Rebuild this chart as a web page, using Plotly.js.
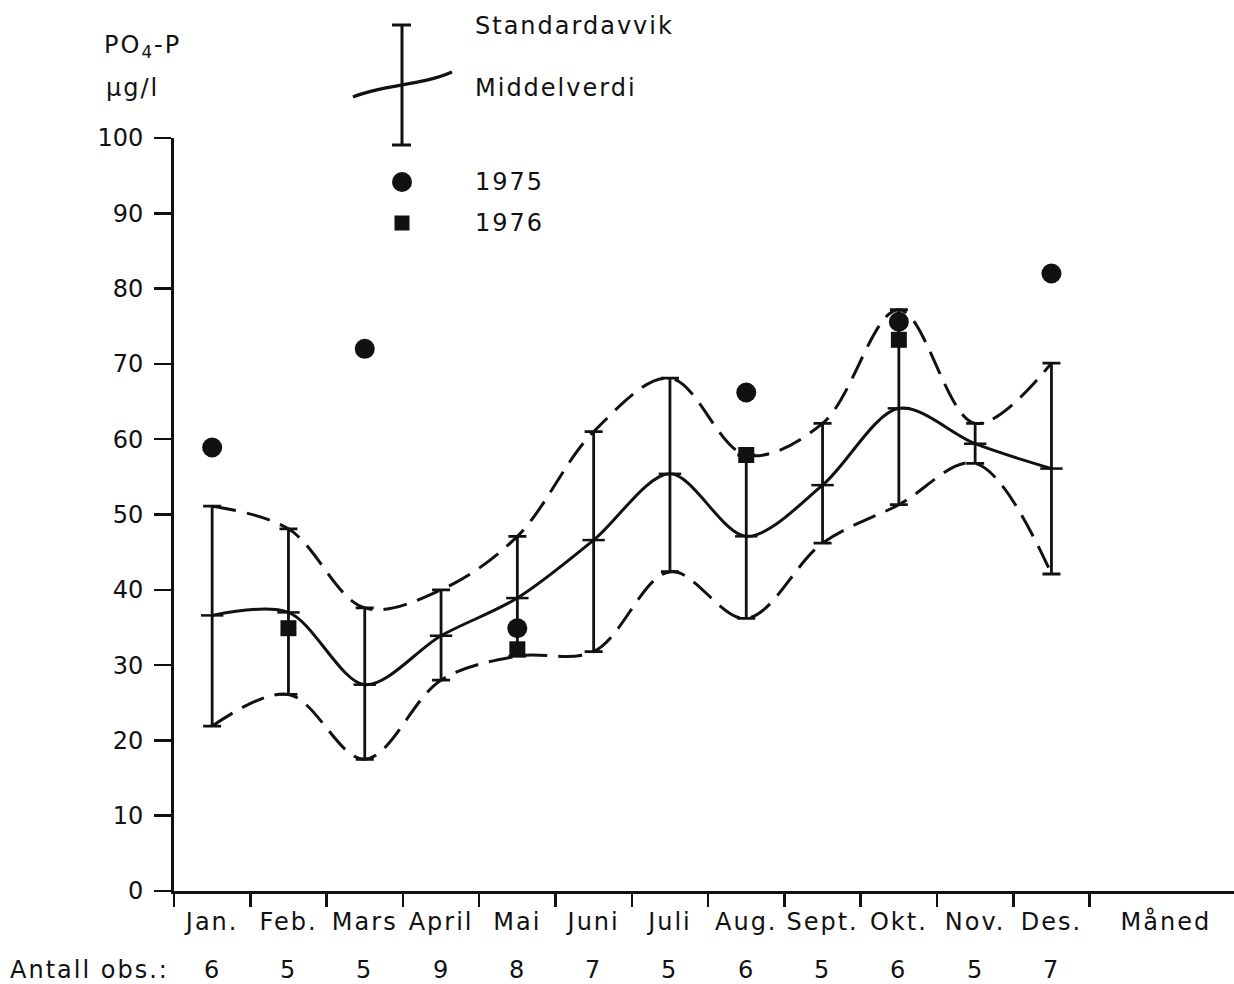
<!DOCTYPE html>
<html>
<head>
<meta charset="utf-8">
<script src="https://cdn.plot.ly/plotly-3.0.1.min.js"></script>
<style>
html,body{margin:0;padding:0;background:#fff;}
text{letter-spacing:2px;}
.ytick text{letter-spacing:0;}
</style>
</head>
<body>
<div id="chart" style="width:1234px;height:984px;"></div>
<script>
// ---- data ----
const months = ['Jan.', 'Feb.', 'Mars', 'April', 'Mai', 'Juni', 'Juli', 'Aug.', 'Sept.', 'Okt.', 'Nov.', 'Des.'];
const monthPos = [1, 2, 3, 4, 5, 6, 7, 8, 9, 10, 11, 12];
const monthBounds = [0.5, 1.5, 2.5, 3.5, 4.5, 5.5, 6.5, 7.5, 8.5, 9.5, 10.5, 11.5, 12.5];
const axisTitleX = 'Måned';
const axisTitlePos = 13.5;
const meanValues = [36.6, 37.0, 27.4, 33.9, 38.9, 46.6, 55.4, 47.1, 53.9, 64.1, 59.4, 56.1];
const sdUpper = [51.1, 48.1, 37.6, 40.0, 47.1, 61.0, 68.1, 57.9, 62.1, 77.2, 62.1, 70.1];
const sdLower = [21.9, 26.1, 17.5, 28.0, 31.2, 31.8, 42.4, 36.2, 46.2, 51.3, 56.8, 42.1];
const months1975 = [1, 3, 5, 8, 10, 12];
const values1975 = [58.9, 72.0, 34.9, 66.2, 75.6, 82.0];
const months1976 = [2, 5, 8, 10];
const values1976 = [34.9, 32.1, 57.9, 73.2];
const antallObs = [6, 5, 5, 9, 8, 7, 5, 6, 5, 6, 5, 7];
const yTicks = [0, 10, 20, 30, 40, 50, 60, 70, 80, 90, 100];

// ---- styling ----
const INK = '#111111';
const FONT = 'DejaVu Sans, Verdana, sans-serif';
const FS = 24;
const DASH = '24px,11px';

const errPlus = sdUpper.map((u, i) => u - meanValues[i]);
const errMinus = sdLower.map((l, i) => meanValues[i] - l);

const traces = [
  { x: monthPos, y: sdUpper, type: 'scatter', mode: 'lines',
    line: { color: INK, width: 3, dash: DASH, shape: 'spline', smoothing: 1 }, hoverinfo: 'skip' },
  { x: monthPos, y: sdLower, type: 'scatter', mode: 'lines',
    line: { color: INK, width: 3, dash: DASH, shape: 'spline', smoothing: 1 }, hoverinfo: 'skip' },
  { x: monthPos, y: meanValues, type: 'scatter', mode: 'lines+markers',
    line: { color: INK, width: 3, shape: 'spline', smoothing: 0.9 },
    marker: { symbol: 'line-ew', size: 16, color: INK, line: { color: INK, width: 2.5 } },
    error_y: { type: 'data', symmetric: false, array: errPlus, arrayminus: errMinus,
               color: INK, thickness: 2.8, width: 9 } },
  { x: months1975, y: values1975, type: 'scatter', mode: 'markers',
    marker: { symbol: 'circle', size: 20, color: INK }, cliponaxis: false },
  { x: months1976, y: values1976, type: 'scatter', mode: 'markers',
    marker: { symbol: 'square', size: 16, color: INK }, cliponaxis: false }
];

// helpers for paper coordinates from the plot-area geometry
const L = 174, T = 138, W = 1060, H = 753;
const px = v => (v - L) / W;
const py = v => (T + H - v) / H;

const annotations = [
  { text: 'PO<sub>4</sub>-P', xref: 'paper', yref: 'paper', x: px(102), y: py(46), xanchor: 'left', yanchor: 'middle', showarrow: false },
  { text: 'µg/l', xref: 'paper', yref: 'paper', x: px(104), y: py(88), xanchor: 'left', yanchor: 'middle', showarrow: false },
  { text: 'Standardavvik', xref: 'paper', yref: 'paper', x: px(473), y: py(26), xanchor: 'left', yanchor: 'middle', showarrow: false },
  { text: 'Middelverdi', xref: 'paper', yref: 'paper', x: px(473), y: py(88), xanchor: 'left', yanchor: 'middle', showarrow: false },
  { text: '1975', xref: 'paper', yref: 'paper', x: px(473), y: py(182), xanchor: 'left', yanchor: 'middle', showarrow: false },
  { text: '1976', xref: 'paper', yref: 'paper', x: px(473), y: py(223), xanchor: 'left', yanchor: 'middle', showarrow: false },
  { text: 'Antall obs.:', xref: 'paper', yref: 'paper', x: px(8), y: py(970), xanchor: 'left', yanchor: 'middle', showarrow: false }
];
antallObs.forEach((n, i) => annotations.push({
  text: String(n), xref: 'x', yref: 'paper', x: monthPos[i], y: py(970),
  xanchor: 'center', yanchor: 'middle', showarrow: false
}));

const lx = px(402);
const shapes = [
  { type: 'line', xref: 'paper', yref: 'paper', x0: lx, x1: lx, y0: py(25), y1: py(145), line: { color: INK, width: 3 } },
  { type: 'line', xref: 'paper', yref: 'paper', x0: px(392), x1: px(411), y0: py(25), y1: py(25), line: { color: INK, width: 3 } },
  { type: 'line', xref: 'paper', yref: 'paper', x0: px(392), x1: px(411), y0: py(145), y1: py(145), line: { color: INK, width: 3 } },
  { type: 'path', xref: 'paper', yref: 'paper',
    path: 'M ' + px(353) + ',' + py(97) + ' C ' + px(385) + ',' + py(84) + ' ' + px(420) + ',' + py(86) + ' ' + px(452) + ',' + py(72),
    line: { color: INK, width: 3.2 } },
  { type: 'circle', xref: 'paper', yref: 'paper', xsizemode: 'pixel', ysizemode: 'pixel',
    xanchor: lx, yanchor: py(182), x0: -10, x1: 10, y0: -10, y1: 10, fillcolor: INK, line: { width: 0 } },
  { type: 'rect', xref: 'paper', yref: 'paper', xsizemode: 'pixel', ysizemode: 'pixel',
    xanchor: lx, yanchor: py(223), x0: -7.5, x1: 7.5, y0: -7.5, y1: 7.5, fillcolor: INK, line: { width: 0 } }
];

const xRange = [0.5, 0.5 + W / 76.3];

const layout = {
  width: 1234, height: 984,
  margin: { l: L, r: 0, t: T, b: 984 - T - H, pad: 0 },
  paper_bgcolor: '#fff', plot_bgcolor: '#fff',
  showlegend: false,
  font: { family: FONT, size: FS, color: INK },
  xaxis: {
    range: xRange, showgrid: false, zeroline: false,
    showline: true, linecolor: INK, linewidth: 3,
    tickmode: 'array', tickvals: monthBounds, ticks: 'outside', ticklen: 13, tickwidth: 2.5, tickcolor: INK,
    showticklabels: false, fixedrange: true
  },
  xaxis2: {
    overlaying: 'x', anchor: 'y', side: 'bottom', range: xRange,
    showgrid: false, zeroline: false, showline: false,
    tickmode: 'array', tickvals: monthPos.concat([axisTitlePos]), ticktext: months.concat([axisTitleX]),
    ticks: '', ticklabelstandoff: 14, tickfont: { family: FONT, size: FS, color: INK }, fixedrange: true
  },
  yaxis: {
    range: [0, 100], showgrid: false, zeroline: false,
    showline: true, linecolor: INK, linewidth: 3,
    tickmode: 'array', tickvals: yTicks, ticks: 'outside', ticklen: 17, tickwidth: 2.5, tickcolor: INK,
    ticklabelstandoff: 6, tickfont: { family: FONT, size: FS, color: INK }, fixedrange: true
  },
  annotations: annotations,
  shapes: shapes
};

// invisible trace so that the month-label axis (xaxis2) is drawn
traces.push({ x: [1], y: [0], xaxis: 'x2', yaxis: 'y', type: 'scatter', mode: 'markers',
  marker: { opacity: 0 }, hoverinfo: 'skip' });

Plotly.newPlot('chart', traces, layout, { staticPlot: true, displayModeBar: false });
</script>
</body>
</html>
